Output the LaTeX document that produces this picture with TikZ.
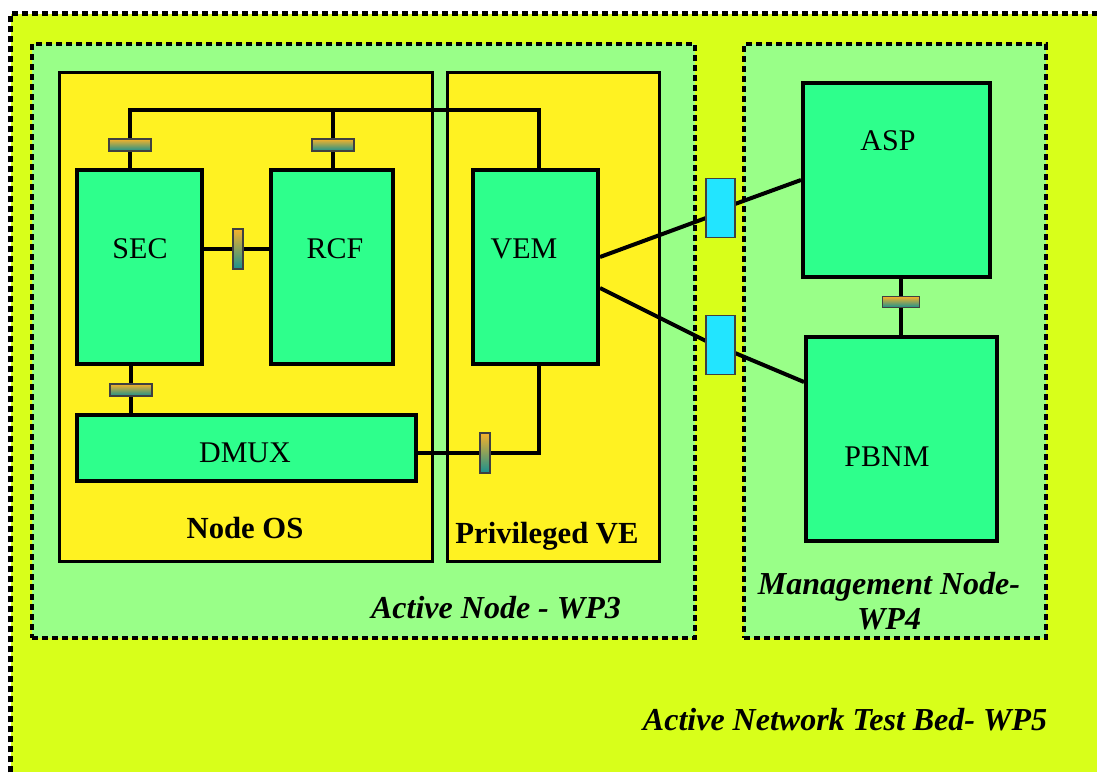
\documentclass[tikz,border=0pt]{standalone}
\usepackage{fontspec}
\setmainfont{Liberation Serif}
\usetikzlibrary{fit,calc}
\definecolor{bedY}{HTML}{D8FF1A}
\definecolor{zoneG}{HTML}{99FF88}
\definecolor{osY}{HTML}{FFF222}
\definecolor{modG}{HTML}{2EFF8C}
\definecolor{cyanK}{HTML}{22E5FF}
\definecolor{kTop}{HTML}{F7B22A}
\definecolor{kMid}{HTML}{A8A080}
\definecolor{kBot}{HTML}{18908F}
\begin{document}
\begin{tikzpicture}[x=0.75pt,y=-0.75pt,
  dashline/.style={line width=3.6pt, dash pattern=on 4.5pt off 3pt},
  zone/.style={draw=black, fill=zoneG, dashline, inner sep=0pt},
  osbox/.style={draw=black, fill=osY, line width=2.25pt, inner sep=0pt},
  mod/.style={draw=black, fill=modG, line width=3pt, inner sep=0pt},
  wire/.style={line width=3pt},
  kbase/.style={draw=black!75, line width=0.9pt, top color=kTop, middle color=kMid, bottom color=kBot, inner sep=0pt},
  kh/.style={kbase, minimum width=31.5pt, minimum height=9pt},
  ks/.style={kbase, minimum width=28pt, minimum height=8.25pt},
  kv/.style={kbase, minimum width=7.5pt, minimum height=30pt},
  cy/.style={draw=black!75, fill=cyanK, line width=0.9pt, minimum width=21.75pt, minimum height=44pt, inner sep=0pt},
  lab/.style={font=\fontsize{22.5}{27}\selectfont, anchor=base, inner sep=0pt},
  blab/.style={font=\fontsize{23}{27}\selectfont\bfseries, anchor=base, inner sep=0pt},
  ilab/.style={font=\fontsize{24}{26.5}\selectfont\bfseries\itshape, inner sep=0pt}]
\useasboundingbox (0,0) rectangle (1097,772);
% test bed
\node[fit={(11,14)(1097,772)}, fill=bedY, inner sep=0pt] (bed) {};
\draw[dashline] (bed.south west) -- (bed.north west) -- (bed.north east);
% zones
\node[zone, fit={(32,44)(695,638)}] (active) {};
\node[zone, fit={(744,44)(1046,638)}] (mgmt) {};
% OS boxes
\node[osbox, fit={(59,72)(432,561)}] (nodeos) {};
\node[osbox, fit={(447,72)(659,561)}] (priv) {};
% modules
\node[mod, fit={(77,170)(202,364)}] (sec) {};
\node[mod, fit={(271,170)(393,364)}] (rcf) {};
\node[mod, fit={(473,170)(598,364)}] (vem) {};
\node[mod, fit={(77,415)(416,481)}] (dmux) {};
\node[mod, fit={(803,83)(990,277)}] (asp) {};
\node[mod, fit={(806,337)(997,541)}] (pbnm) {};
% connector positions
\coordinate (busL) at (130,110);
\coordinate (busR) at (539,110);
\coordinate (k1) at (130,145);
\coordinate (k2) at (333,145);
\coordinate (k3) at (238,249);
\coordinate (k4) at (131,390);
\coordinate (k5) at (485,453);
\coordinate (k6) at (901,302);
\coordinate (c1) at (720.5,208);
\coordinate (c2) at (720.5,345);
% wires
\draw[wire] (sec.north -| busL) -- (busL) -- (busR) -- (busR |- vem.north);
\draw[wire] (k2 |- busL) -- (k2 |- rcf.north);
\draw[wire] (k3 -| sec.east) -- (k3 -| rcf.west);
\draw[wire] (k4 |- sec.south) -- (k4 |- dmux.north);
\draw[wire] (k5 -| dmux.east) -- (k5 -| busR) -- (busR |- vem.south);
\draw[wire] ($(vem.east)+(0,-10)$) -- ($(c1)+(-14.5,10)$);
\draw[wire] ($(c1)+(14.5,-4)$) -- (asp.west);
\draw[wire] ($(vem.east)+(0,21)$) -- ($(c2)+(-14.5,-4)$);
\draw[wire] ($(c2)+(14.5,8)$) -- ($(pbnm.north west)+(0,47)$);
\draw[wire] (k6 |- asp.south) -- (k6 |- pbnm.north);
% connectors on top of wires
\node[kh] (kn1) at (k1) {};
\node[kh] (kn2) at (k2) {};
\node[kv] (kn3) at (k3) {};
\node[kh] (kn4) at (k4) {};
\node[kv] (kn5) at (k5) {};
\node[ks] (kn6) at (k6) {};
\node[cy] (cy1) at (c1) {};
\node[cy] (cy2) at (c2) {};
% labels
\node[lab] (tsec) at (140,258) {SEC};
\node[lab] (trcf) at (335,258) {RCF};
\node[lab] (tvem) at (524,258) {VEM};
\node[lab] (tdmux) at (245,462) {DMUX};
\node[lab] (tasp) at (888,150) {ASP};
\node[lab] (tpbnm) at (887,466) {PBNM};
\node[blab] (tos) at (245,538) {Node OS};
\node[blab] (tpriv) at (547,543) {Privileged VE};
\node[ilab, anchor=base] (tactive) at (496,618) {Active Node - WP3};
\node[ilab, align=center] (tmgmt) at (889,601) {Management Node-\\WP4};
\node[ilab, anchor=base] (tbed) at (845,730) {Active Network Test Bed- WP5};
\end{tikzpicture}
\end{document}
